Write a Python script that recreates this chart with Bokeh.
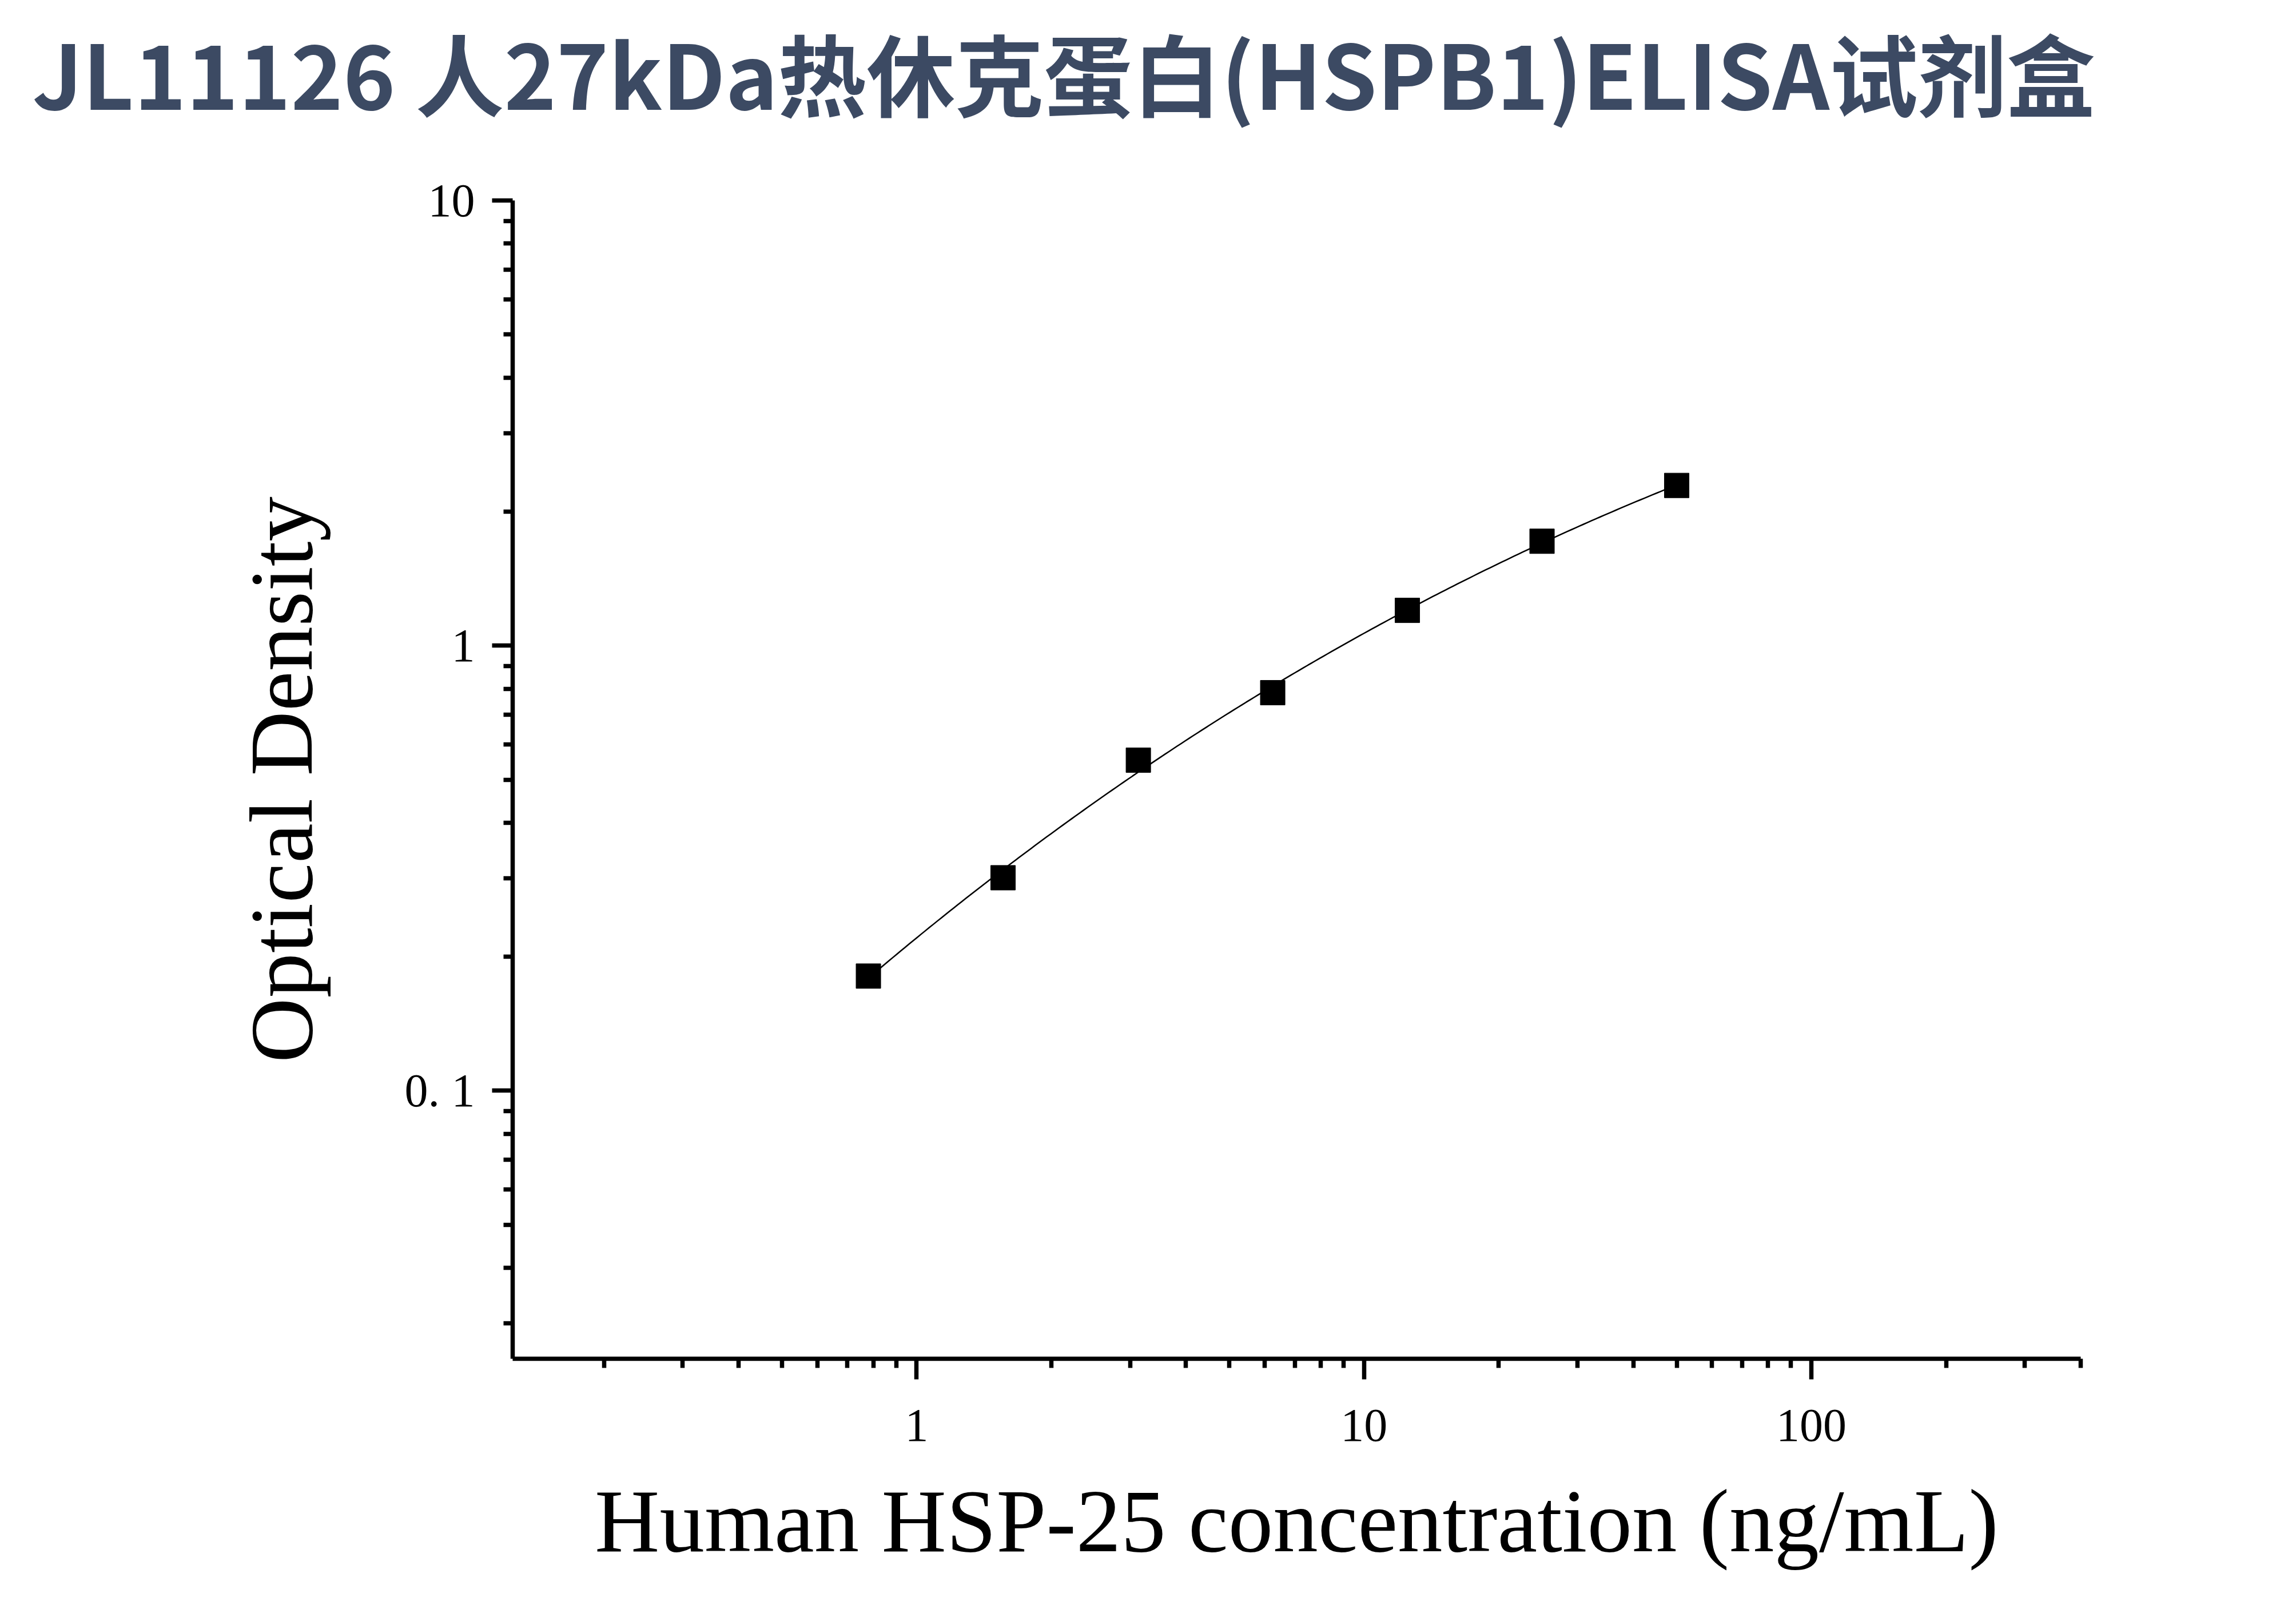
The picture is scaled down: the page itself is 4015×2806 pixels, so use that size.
import numpy as np
from bokeh.plotting import figure
from bokeh.models import FixedTicker, Range1d
from bokeh.embed import file_html
from bokeh.resources import INLINE

# ---- data ----
concentration = [0.78, 1.56, 3.13, 6.25, 12.5, 25.0, 50.0]
optical_density = [0.181, 0.301, 0.553, 0.784, 1.20, 1.716, 2.29]

x_major_ticks = [1, 10, 100]
x_minor_ticks = [0.2, 0.3, 0.4, 0.5, 0.6, 0.7, 0.8, 0.9,
                 2, 3, 4, 5, 6, 7, 8, 9,
                 20, 30, 40, 50, 60, 70, 80, 90,
                 200, 300, 400]
y_major_ticks = [0.1, 1, 10]
y_minor_ticks = [0.03, 0.04, 0.05, 0.06, 0.07, 0.08, 0.09,
                 0.2, 0.3, 0.4, 0.5, 0.6, 0.7, 0.8, 0.9,
                 2, 3, 4, 5, 6, 7, 8, 9]
y_tick_labels = {0.1: "0. 1", 1: "1", 10: "10"}
x_tick_labels = {1: "1", 10: "10", 100: "100"}

title_text = "JL11126 人27kDa热休克蛋白(HSPB1)ELISA试剂盒"
x_label = "Human HSP-25 concentration (ng/mL)"
y_label = "Optical Density"

# smooth standard curve fitted through the points in log-log space
lx = np.log10(concentration)
ly = np.log10(optical_density)
coef = np.polyfit(lx, ly, 3)
fit_lx = np.linspace(lx[0], lx[-1], 200)
fit_x = 10 ** fit_lx
fit_y = 10 ** np.polyval(coef, fit_lx)

p = figure(width=4000, height=2902,
           x_axis_type="log", y_axis_type="log",
           x_range=Range1d(0.125, 400), y_range=Range1d(0.025, 10),
           output_backend="svg", toolbar_location=None,
           min_border_left=896, min_border_right=362,
           min_border_top=460, min_border_bottom=417)
p.margin = (-110, 0, 0, 0)

p.outline_line_color = None
p.xgrid.visible = False
p.ygrid.visible = False
p.background_fill_color = "white"
p.border_fill_color = "white"

p.line(fit_x, fit_y, line_color="black", line_width=2.5)
p.scatter(concentration, optical_density, marker="square", size=43,
          fill_color="black", line_color="black")

for ax, major, minor, labels in ((p.xaxis[0], x_major_ticks, x_minor_ticks, x_tick_labels),
                                 (p.yaxis[0], y_major_ticks, y_minor_ticks, y_tick_labels)):
    ax.ticker = FixedTicker(ticks=major, minor_ticks=minor)
    ax.major_label_overrides = labels
    ax.axis_line_width = 7.5
    ax.axis_line_color = "black"
    ax.major_tick_line_width = 7.5
    ax.minor_tick_line_width = 7.5
    ax.major_tick_line_color = "black"
    ax.minor_tick_line_color = "black"
    ax.major_tick_in = 0
    ax.major_tick_out = 36
    ax.minor_tick_in = 0
    ax.minor_tick_out = 16
    ax.major_label_text_font = "Liberation Serif"
    ax.major_label_text_font_size = "82px"
    ax.major_label_text_color = "black"
    ax.axis_label_text_font = "Liberation Serif"
    ax.axis_label_text_font_size = "157px"
    ax.axis_label_text_font_style = "normal"
    ax.axis_label_text_color = "black"

p.xaxis.axis_label = x_label
p.yaxis.axis_label = y_label
p.xaxis.major_label_standoff = 53
p.yaxis.major_label_standoff = 30
p.xaxis.axis_label_standoff = 50
p.yaxis.axis_label_standoff = 126

p.title.text = title_text
p.title.text_font = "Noto Sans CJK SC"
p.title.text_font_size = "155px"
p.title.text_font_style = "bold"
p.title.text_color = "#3c4a63"
p.title.align = "left"
p.title.offset = -840
p.title.standoff = 228

open("out.html", "w").write(file_html(p, INLINE))
